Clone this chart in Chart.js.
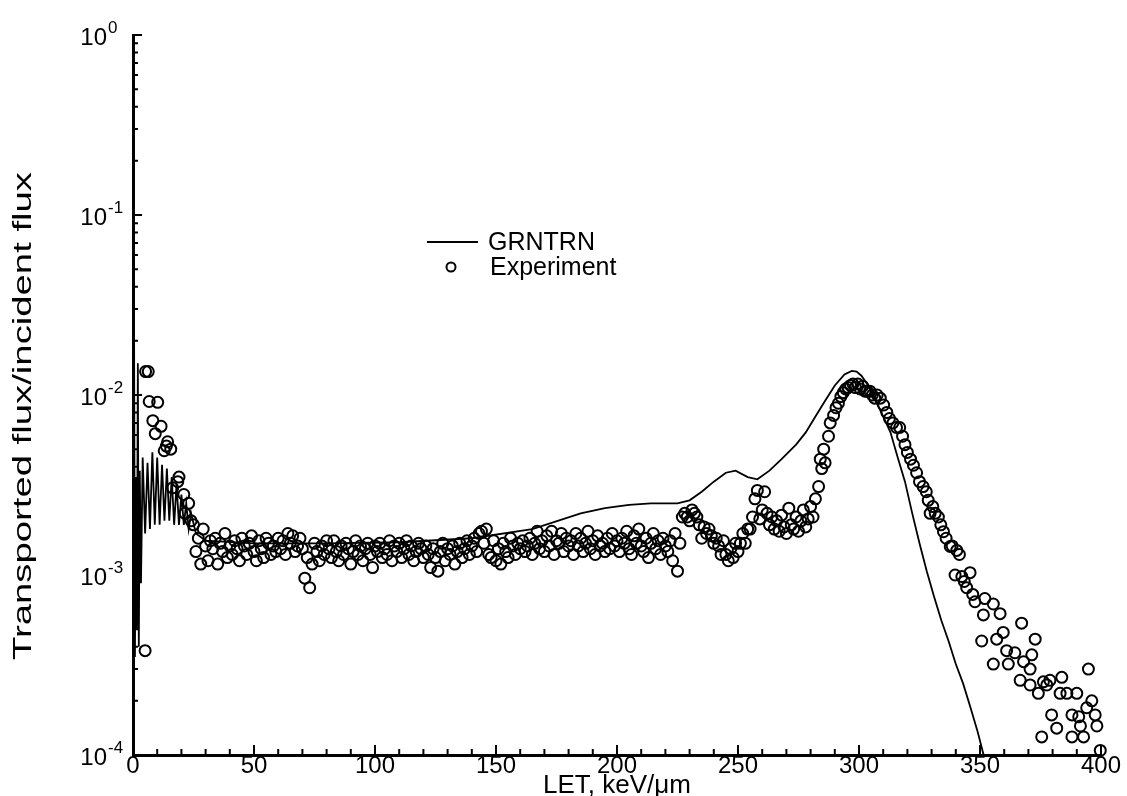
<!DOCTYPE html>
<html>
<head>
<meta charset="utf-8">
<script src="https://cdn.jsdelivr.net/npm/chart.js@4.4.1/dist/chart.umd.min.js"></script>
<style>
  html, body { margin: 0; padding: 0; background: #fff; }
  #fluxChart { display: block; }
</style>
</head>
<body>
<canvas id="fluxChart" width="1127" height="796"></canvas>
<script>
const FONT = '"Liberation Sans", Arial, Helvetica, sans-serif';

// GRNTRN calculation (solid line)
const grnLet = [
  0, 0.4, 0.8, 1.2, 1.6, 2.0, 2.4, 2.8, 3.3, 4,
  5, 6, 7, 8, 9, 10, 11, 12, 13, 14,
  15, 16, 17, 18, 19, 20, 21, 22, 23, 24,
  26, 30, 50, 80, 110, 140, 165, 185, 195, 205,
  214, 225, 230, 235, 240, 245, 249, 254, 258, 263,
  268, 274, 278, 282, 286, 290, 294, 297, 299, 301,
  304, 307, 310, 313, 316, 319, 322, 325, 328, 331,
  334, 337, 340, 343, 346, 349, 351.5
];
const grnFlux = [
  0.8, 0.04, 3.5e-4, 3.5e-3, 5.0e-4, 1.5e-2, 4.0e-4, 3.8e-3, 9.0e-4, 4.5e-3,
  1.7e-3, 4.2e-3, 1.8e-3, 4.8e-3, 1.9e-3, 4.5e-3, 1.9e-3, 4.1e-3, 2.0e-3, 3.9e-3,
  2.0e-3, 3.5e-3, 1.9e-3, 3.2e-3, 1.9e-3, 2.8e-3, 1.9e-3, 2.5e-3, 1.8e-3, 2.2e-3,
  1.7e-3, 1.55e-3, 1.5e-3, 1.5e-3, 1.52e-3, 1.6e-3, 1.8e-3, 2.2e-3, 2.35e-3, 2.45e-3,
  2.5e-3, 2.5e-3, 2.6e-3, 2.9e-3, 3.3e-3, 3.7e-3, 3.8e-3, 3.5e-3, 3.4e-3, 3.8e-3,
  4.4e-3, 5.3e-3, 6.2e-3, 7.6e-3, 9.3e-3, 1.13e-2, 1.3e-2, 1.36e-2, 1.35e-2, 1.28e-2,
  1.12e-2, 9.2e-3, 7.6e-3, 6.2e-3, 4.5e-3, 3.3e-3, 2.2e-3, 1.5e-3, 1.05e-3, 7.6e-4,
  5.6e-4, 4.3e-4, 3.2e-4, 2.5e-4, 1.85e-4, 1.35e-4, 1.0e-4
];

// Experiment (open circles)
const expLet = [
  5, 5.2, 6.3, 6.7, 10.2, 8.2, 11.6, 9.2, 14.3, 15.6,
  12.9, 13.8, 19, 18.5, 16.4, 21, 23, 21.5, 24,
  25, 26, 27, 28, 29, 30, 31, 32, 33, 34,
  35, 36, 37, 38, 39, 40, 41, 42, 43, 44,
  45, 46, 47, 48, 49, 50, 51, 52, 53, 54,
  55, 56, 57, 58, 59, 60, 61, 62, 63, 64,
  65, 66, 67, 68, 69, 70, 71, 72, 73, 74,
  75, 76, 77, 78, 79, 80, 81, 82, 83, 84,
  85, 86, 87, 88, 89, 90, 91, 92, 93, 94,
  95, 96, 97, 98, 99, 100, 101, 102, 103, 104,
  105, 106, 107, 108, 109, 110, 111, 112, 113, 114,
  115, 116, 117, 118, 119, 120, 121, 122, 123, 124,
  125, 126, 127, 128, 129, 130, 131, 132, 133, 134,
  135, 136, 137, 138, 139, 140, 141, 142, 143, 144,
  145, 146, 147, 148, 149, 150, 151, 152, 153, 154,
  155, 156, 157, 158, 159, 160, 161, 162, 163, 164,
  165, 166, 167, 168, 169, 170, 171, 172, 173, 174,
  175, 176, 177, 178, 179, 180, 181, 182, 183, 184,
  185, 186, 187, 188, 189, 190, 191, 192, 193, 194,
  195, 196, 197, 198, 199, 200, 201, 202, 203, 204,
  205, 206, 207, 208, 209, 210, 211, 212, 213, 214,
  215, 216, 217, 218, 219, 220, 221, 222, 223, 224,
  225, 226, 227, 228, 229, 230, 231, 232, 233, 234,
  235, 236, 237, 238, 239, 240, 241, 242, 243, 244,
  245, 246, 247, 248, 249, 250, 251, 252, 253, 254,
  255, 256, 257, 258, 259, 260, 261, 262, 263, 264,
  265, 266, 267, 268, 269, 270, 271, 272, 273, 274,
  275, 276, 277, 278, 279, 280, 281, 282,
  283.3, 284, 284.6, 285.4, 286, 287.4, 288.1, 289.5, 290.5, 291.5,
  292.5, 293.5, 294.5, 295.5, 296.5, 297.5, 298.5, 299.5, 300.5, 301.5,
  302.5, 303.3, 304.5, 305.5, 306.5, 307.5, 308.8, 310.2, 311.5, 312.6,
  314, 315.5, 316.8, 318, 319, 320, 321.3, 322.5, 323.8, 325,
  326.5, 327.8, 328.6, 329.4, 330.5, 331.5, 332.8, 333.8, 334.9, 336,
  337.7, 338.5, 339.7, 340.4, 341.5, 342.5, 343.5, 344.5, 345.9, 347,
  347.9, 350.7, 351.4, 352, 355.5, 355.5, 356.9, 358.3, 359.6, 361,
  361.7, 364.4, 366.6, 367.2, 368, 370.7, 370.7, 371.4, 372.8, 374.1,
  375.5, 376.2, 377.6, 378.9, 379.6, 381.7, 383.1, 383.8, 385.9, 388,
  388, 390, 390.8, 391.5, 392.8, 394.1, 394.8, 396.2, 397.6, 398.3,
  399.7
];
const expFlux = [
  3.8e-4, 1.35e-2, 1.35e-2, 9.2e-3, 9.1e-3, 7.2e-3, 6.7e-3, 6.1e-3, 5.5e-3, 5.0e-3,
  4.9e-3, 5.2e-3, 3.5e-3, 3.3e-3, 3.05e-3, 2.8e-3, 2.5e-3, 2.2e-3, 2.0e-3,
  1.9e-3, 1.35e-3, 1.6e-3, 1.15e-3, 1.8e-3, 1.45e-3, 1.2e-3, 1.55e-3, 1.4e-3, 1.6e-3,
  1.15e-3, 1.5e-3, 1.35e-3, 1.7e-3, 1.25e-3, 1.45e-3, 1.3e-3, 1.55e-3, 1.4e-3, 1.2e-3,
  1.6e-3, 1.45e-3, 1.3e-3, 1.5e-3, 1.65e-3, 1.35e-3, 1.2e-3, 1.55e-3, 1.4e-3, 1.25e-3,
  1.6e-3, 1.5e-3, 1.3e-3, 1.45e-3, 1.35e-3, 1.6e-3, 1.4e-3, 1.55e-3, 1.3e-3, 1.7e-3,
  1.5e-3, 1.65e-3, 1.35e-3, 1.45e-3, 1.6e-3, 1.4e-3, 9.6e-4, 1.25e-3, 8.5e-4, 1.15e-3,
  1.5e-3, 1.35e-3, 1.2e-3, 1.45e-3, 1.3e-3, 1.55e-3, 1.4e-3, 1.25e-3, 1.55e-3, 1.35e-3,
  1.2e-3, 1.45e-3, 1.3e-3, 1.5e-3, 1.4e-3, 1.15e-3, 1.35e-3, 1.55e-3, 1.3e-3, 1.45e-3,
  1.2e-3, 1.4e-3, 1.5e-3, 1.3e-3, 1.1e-3, 1.45e-3, 1.35e-3, 1.5e-3, 1.25e-3, 1.4e-3,
  1.3e-3, 1.55e-3, 1.2e-3, 1.45e-3, 1.35e-3, 1.5e-3, 1.25e-3, 1.4e-3, 1.55e-3, 1.3e-3,
  1.45e-3, 1.2e-3, 1.35e-3, 1.5e-3, 1.4e-3, 1.25e-3, 1.45e-3, 1.3e-3, 1.1e-3, 1.4e-3,
  1.25e-3, 1.05e-3, 1.35e-3, 1.5e-3, 1.2e-3, 1.4e-3, 1.3e-3, 1.45e-3, 1.15e-3, 1.35e-3,
  1.5e-3, 1.25e-3, 1.4e-3, 1.55e-3, 1.3e-3, 1.45e-3, 1.6e-3, 1.35e-3, 1.7e-3, 1.75e-3,
  1.5e-3, 1.8e-3, 1.3e-3, 1.25e-3, 1.55e-3, 1.2e-3, 1.4e-3, 1.15e-3, 1.5e-3, 1.35e-3,
  1.25e-3, 1.6e-3, 1.45e-3, 1.3e-3, 1.5e-3, 1.4e-3, 1.55e-3, 1.35e-3, 1.45e-3, 1.6e-3,
  1.3e-3, 1.5e-3, 1.75e-3, 1.4e-3, 1.55e-3, 1.35e-3, 1.65e-3, 1.45e-3, 1.75e-3, 1.3e-3,
  1.55e-3, 1.5e-3, 1.7e-3, 1.35e-3, 1.6e-3, 1.45e-3, 1.55e-3, 1.3e-3, 1.7e-3, 1.45e-3,
  1.6e-3, 1.35e-3, 1.5e-3, 1.75e-3, 1.4e-3, 1.55e-3, 1.3e-3, 1.65e-3, 1.45e-3, 1.5e-3,
  1.35e-3, 1.6e-3, 1.4e-3, 1.7e-3, 1.45e-3, 1.55e-3, 1.35e-3, 1.6e-3, 1.5e-3, 1.75e-3,
  1.4e-3, 1.3e-3, 1.65e-3, 1.5e-3, 1.8e-3, 1.45e-3, 1.35e-3, 1.6e-3, 1.25e-3, 1.5e-3,
  1.7e-3, 1.4e-3, 1.55e-3, 1.3e-3, 1.6e-3, 1.45e-3, 1.35e-3, 1.55e-3, 1.2e-3, 1.7e-3,
  1.05e-3, 1.5e-3, 2.1e-3, 2.2e-3, 2.1e-3, 2.0e-3, 2.3e-3, 2.2e-3, 2.1e-3, 1.9e-3,
  1.6e-3, 1.85e-3, 1.7e-3, 1.8e-3, 1.65e-3, 1.5e-3, 1.6e-3, 1.45e-3, 1.3e-3, 1.55e-3,
  1.3e-3, 1.2e-3, 1.4e-3, 1.25e-3, 1.5e-3, 1.35e-3, 1.5e-3, 1.7e-3, 1.5e-3, 1.8e-3,
  1.8e-3, 2.1e-3, 2.65e-3, 2.95e-3, 2.05e-3, 2.3e-3, 2.9e-3, 2.2e-3, 1.9e-3, 2.1e-3,
  1.8e-3, 2.0e-3, 1.75e-3, 2.15e-3, 1.85e-3, 1.7e-3, 2.35e-3, 1.9e-3, 1.8e-3, 2.1e-3,
  1.75e-3, 2.0e-3, 2.3e-3, 1.85e-3, 2.05e-3, 2.4e-3, 2.1e-3, 2.65e-3,
  3.1e-3, 4.4e-3, 3.9e-3, 5.0e-3, 4.2e-3, 5.9e-3, 7.0e-3, 7.7e-3, 8.5e-3, 9.0e-3,
  9.8e-3, 1.03e-2, 1.08e-2, 1.1e-2, 1.13e-2, 1.15e-2, 1.1e-2, 1.15e-2, 1.08e-2, 1.12e-2,
  1.05e-2, 1.05e-2, 1.05e-2, 1.0e-2, 9.6e-3, 1.0e-2, 9.6e-3, 8.8e-3, 8.0e-3, 7.4e-3,
  7.0e-3, 6.6e-3, 6.6e-3, 5.9e-3, 5.3e-3, 4.8e-3, 4.4e-3, 4.07e-3, 3.7e-3, 3.3e-3,
  3.1e-3, 2.9e-3, 2.6e-3, 2.2e-3, 2.4e-3, 2.2e-3, 2.1e-3, 1.9e-3, 1.74e-3, 1.6e-3,
  1.44e-3, 1.45e-3, 1.0e-3, 1.37e-3, 1.3e-3, 9.8e-4, 9.2e-4, 8.5e-4, 1.03e-3, 7.8e-4,
  7.1e-4, 4.3e-4, 6.0e-4, 7.4e-4, 6.9e-4, 3.2e-4, 4.4e-4, 6.1e-4, 4.8e-4, 3.8e-4,
  3.2e-4, 3.7e-4, 2.6e-4, 5.4e-4, 3.3e-4, 3.0e-4, 2.45e-4, 3.6e-4, 4.4e-4, 2.2e-4,
  1.26e-4, 2.55e-4, 2.45e-4, 2.6e-4, 1.67e-4, 1.41e-4, 2.2e-4, 2.7e-4, 2.2e-4, 1.67e-4,
  1.26e-4, 2.2e-4, 1.63e-4, 1.45e-4, 1.26e-4, 1.83e-4, 3.0e-4, 2.0e-4, 1.67e-4, 1.45e-4,
  1.06e-4
];

// y axis decade labels (10 with superscript exponent)
const yDecades = [1e-4, 1e-3, 1e-2, 1e-1, 1];
const yExponents = ['-4', '-3', '-2', '-1', '0'];
const yTitle = 'Transported flux/incident flux';

// ticks drawn inward, labels with superscripts, stretched y title, in-plot legend
const axisDecor = {
  id: 'axisDecor',
  afterDraw(chart) {
    const { ctx, chartArea: area, scales: { x, y } } = chart;
    ctx.save();
    ctx.strokeStyle = '#000';
    ctx.lineWidth = 2;
    ctx.beginPath();
    for (let v = 10; v <= 400; v += 10) {
      const px = x.getPixelForValue(v);
      const len = v % 50 === 0 ? 10 : 6;
      ctx.moveTo(px, area.bottom);
      ctx.lineTo(px, area.bottom - len);
    }
    for (let d = -4; d <= 0; d++) {
      const base = Math.pow(10, d);
      const py = y.getPixelForValue(base);
      ctx.moveTo(area.left, py);
      ctx.lineTo(area.left + 9, py);
      if (d === 0) continue;
      for (let m = 2; m <= 9; m++) {
        const pm = y.getPixelForValue(m * base);
        ctx.moveTo(area.left, pm);
        ctx.lineTo(area.left + 5, pm);
      }
    }
    ctx.stroke();

    ctx.fillStyle = '#000';
    ctx.textBaseline = 'middle';
    yDecades.forEach((v, i) => {
      const py = y.getPixelForValue(v);
      ctx.font = '24px ' + FONT;
      ctx.textAlign = 'right';
      ctx.fillText('10', area.left - 26, py + 3);
      ctx.font = '17px ' + FONT;
      ctx.textAlign = 'left';
      ctx.fillText(yExponents[i], area.left - 25, py - 7);
    });

    // y axis title, stretched along its length like the scanned figure
    ctx.save();
    ctx.font = '26px ' + FONT;
    ctx.textAlign = 'center';
    ctx.translate(24, 416);
    ctx.rotate(-Math.PI / 2);
    ctx.scale(488 / ctx.measureText(yTitle).width, 1);
    ctx.fillText(yTitle, 0, 0);
    ctx.restore();

    // legend
    ctx.lineWidth = 2;
    ctx.beginPath();
    ctx.moveTo(427, 242);
    ctx.lineTo(478, 242);
    ctx.stroke();
    ctx.beginPath();
    ctx.arc(451, 267, 4.5, 0, Math.PI * 2);
    ctx.stroke();
    ctx.font = '25px ' + FONT;
    ctx.textAlign = 'left';
    ctx.fillText('GRNTRN', 488, 243);
    ctx.fillText('Experiment', 490, 268);
    ctx.restore();
  }
};

const ctx = document.getElementById('fluxChart').getContext('2d');

window.fluxChart = new Chart(ctx, {
  type: 'scatter',
  data: {
    datasets: [
      {
        label: 'GRNTRN',
        data: grnLet.map((v, i) => ({ x: v, y: grnFlux[i] })),
        showLine: true,
        borderColor: '#000',
        borderWidth: 1.8,
        pointRadius: 0,
        tension: 0,
      },
      {
        label: 'Experiment',
        data: expLet.map((v, i) => ({ x: v, y: expFlux[i] })),
        showLine: false,
        pointStyle: 'circle',
        pointRadius: 5.5,
        borderWidth: 2,
        pointBorderColor: '#000',
        pointBackgroundColor: 'rgba(0,0,0,0)',
        clip: false,
      },
    ],
  },
  options: {
    responsive: false,
    devicePixelRatio: 1,
    animation: false,
    layout: {
      padding: { top: 35, right: 26, left: 0, bottom: 0 },
    },
    plugins: {
      legend: { display: false },
      tooltip: { enabled: false },
    },
    scales: {
      x: {
        type: 'linear',
        min: 0,
        max: 400,
        afterFit: (scale) => { scale.height = 41; },
        grid: { display: false, drawTicks: false },
        border: { display: true, color: '#000', width: 3 },
        ticks: {
          stepSize: 50,
          color: '#000',
          padding: -3,
          maxRotation: 0,
          font: { family: FONT, size: 24 },
        },
        title: {
          display: true,
          text: 'LET, keV/μm',
          color: '#000',
          font: { family: FONT, size: 26 },
          padding: { top: 0, bottom: -5 },
        },
      },
      y: {
        type: 'logarithmic',
        min: 1e-4,
        max: 1,
        afterFit: (scale) => { scale.width = 133; },
        grid: { display: false, drawTicks: false },
        border: { display: true, color: '#000', width: 3 },
        ticks: { display: false },
        title: { display: false },
      },
    },
  },
  plugins: [axisDecor],
});
</script>
</body>
</html>
